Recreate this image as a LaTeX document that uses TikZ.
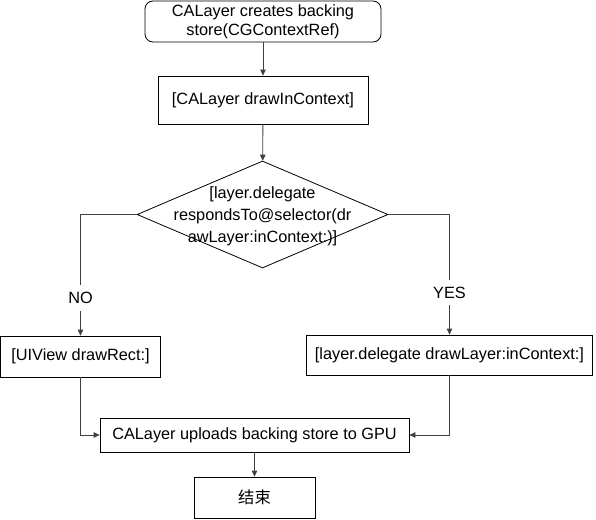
\documentclass[tikz,border=0pt]{standalone}
\usepackage{fontspec}
\setmainfont{Liberation Sans}
\newfontfamily\cjk{Noto Sans CJK SC}
\usetikzlibrary{shapes.geometric,arrows.meta}
\begin{document}
\begin{tikzpicture}[x=1pt,y=-1pt,
  every node/.style={font=\fontsize{16.3}{19}\selectfont},
  stepbox/.style={draw=black,line width=0.8pt,rectangle,inner sep=0pt,align=center},
  arr/.style={draw=black!75,line width=0.8pt,-{Triangle[length=6pt,width=5.5pt]}},
  lbl/.style={fill=white,inner xsep=2pt,inner ysep=7pt}]
\useasboundingbox (0,0) rectangle (596,519);
\fill[white] (0,0) rectangle (596,519);
\node[stepbox,rounded corners=8pt,minimum width=236pt,minimum height=41pt] (top) at (263,21.5)
  {CALayer creates backing\\store(CGContextRef)};
\node[stepbox,minimum width=210pt,minimum height=48pt] (box2) at (263,100) {[CALayer drawInContext]};
\node[draw=black,line width=0.8pt,diamond,minimum width=251pt,minimum height=107pt,inner sep=0pt] (d) at (262.5,214.5) {};
\node[align=center,font=\fontsize{16.3}{22}\selectfont] (dtext) at (262.5,216)
  {[layer.delegate\\respondsTo@selector(dr\\awLayer:inContext:)]};
\node[stepbox,minimum width=160pt,minimum height=41pt] (nobox) at (80.5,356.5) {[UIView drawRect:]};
\node[stepbox,minimum width=286pt,minimum height=40pt] (yesbox) at (449.5,355) {[layer.delegate drawLayer:inContext:]};
\node[stepbox,minimum width=309pt,minimum height=34pt] (gpu) at (254.5,435) {CALayer uploads backing store to GPU};
\node[stepbox,minimum width=121pt,minimum height=41pt] (end) at (254.5,497.5) {\cjk 结束};
\draw[arr] (top) -- (box2);
\draw[arr] (box2) -- (d);
\draw[arr] (d.west) -| node[lbl,pos=0.845] (no) {NO} (nobox.north);
\draw[arr] (d.east) -| node[lbl,pos=0.825] (yes) {YES} (yesbox.north);
\draw[arr] (nobox.south) |- (gpu.west);
\draw[arr] (yesbox.south) |- (gpu.east);
\draw[arr] (gpu) -- (end);
\end{tikzpicture}
\end{document}
